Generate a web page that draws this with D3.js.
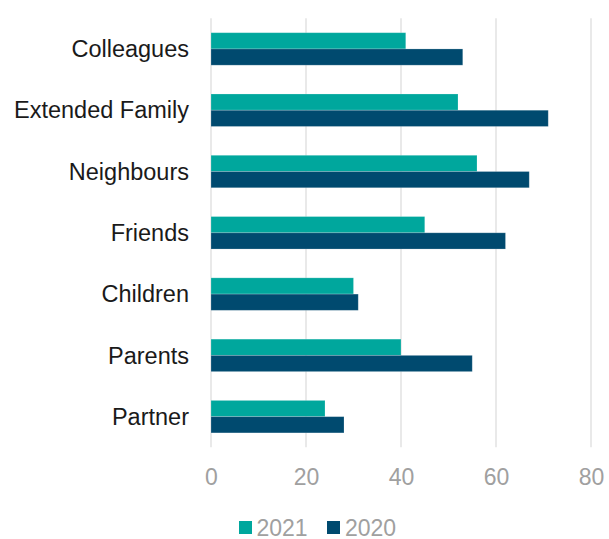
<!DOCTYPE html>
<html>
<head>
<meta charset="utf-8">
<script src="https://cdn.jsdelivr.net/npm/d3@7"></script>
<style>
  html, body { margin: 0; padding: 0; background: #fff; }
  svg { display: block; font-family: "Liberation Sans", Arial, sans-serif; }
</style>
</head>
<body>
<svg id="chart" width="609" height="539"></svg>
<script>
// Who people turned to, by relationship, two survey years
const categories = ["Colleagues", "Extended Family", "Neighbours", "Friends", "Children", "Parents", "Partner"];
const values2021 = [41, 52, 56, 45, 30, 40, 24];
const values2020 = [53, 71, 67, 62, 31, 55, 28];
const seriesNames = ["2021", "2020"];
const xTicks = [0, 20, 40, 60, 80];

const colors = { "2021": "#00A79D", "2020": "#004A6F" };
const seriesValues = { "2021": values2021, "2020": values2020 };

const svg = d3.select("#chart");
const plotLeft = 211, plotRight = 591, plotTop = 18.3, plotBottom = 447.3;

const x = d3.scaleLinear().domain([0, 80]).range([plotLeft, plotRight]);
const y = d3.scaleBand().domain(categories).range([plotTop, plotBottom])
  .paddingInner(0.47).paddingOuter(0.235);
const ySub = d3.scaleBand().domain(seriesNames).range([0, y.bandwidth()]);

// vertical gridlines
svg.append("g")
  .selectAll("line")
  .data(xTicks)
  .join("line")
  .attr("x1", d => x(d)).attr("x2", d => x(d))
  .attr("y1", plotTop).attr("y2", plotBottom)
  .attr("stroke", "#e2e2e2")
  .attr("stroke-width", 1.5);

// bars
const groups = svg.append("g")
  .selectAll("g")
  .data(categories)
  .join("g")
  .attr("transform", d => `translate(0,${y(d)})`);

groups.selectAll("rect")
  .data((c, i) => seriesNames.map(s => ({ s, v: seriesValues[s][i] })))
  .join("rect")
  .attr("x", x(0))
  .attr("y", d => ySub(d.s))
  .attr("width", d => x(d.v) - x(0))
  .attr("height", ySub.bandwidth())
  .attr("fill", d => colors[d.s])
  .attr("stroke", "rgba(255,255,255,0.25)")
  .attr("stroke-width", 0.8);

// category labels
svg.append("g")
  .selectAll("text")
  .data(categories)
  .join("text")
  .attr("x", 189)
  .attr("y", d => y(d) + y.bandwidth() / 2)
  .attr("dy", "0.35em")
  .attr("text-anchor", "end")
  .attr("font-size", 23.5)
  .attr("fill", "#1a1a1a")
  .text(d => d);

// x axis labels
const xAxis = d3.axisBottom(x).tickValues(xTicks).tickSize(0).tickPadding(0);
const ax = svg.append("g").attr("transform", `translate(0,${plotBottom})`).call(xAxis);
ax.select(".domain").remove();
ax.selectAll("text")
  .attr("y", 38)
  .attr("dy", 0)
  .attr("font-size", 23)
  .attr("font-family", "Liberation Sans, Arial, sans-serif")
  .attr("fill", "#a0a0a0");

// legend
const legendItems = [
  { s: "2021", sx: 239, tx: 256.5 },
  { s: "2020", sx: 327, tx: 345 }
];
const lg = svg.append("g");
lg.selectAll("rect")
  .data(legendItems)
  .join("rect")
  .attr("x", d => d.sx).attr("y", 521)
  .attr("width", 13).attr("height", 13)
  .attr("fill", d => colors[d.s]);
lg.selectAll("text")
  .data(legendItems)
  .join("text")
  .attr("x", d => d.tx).attr("y", 535.5)
  .attr("font-size", 23)
  .attr("fill", "#a0a0a0")
  .text(d => d.s);
</script>
</body>
</html>
